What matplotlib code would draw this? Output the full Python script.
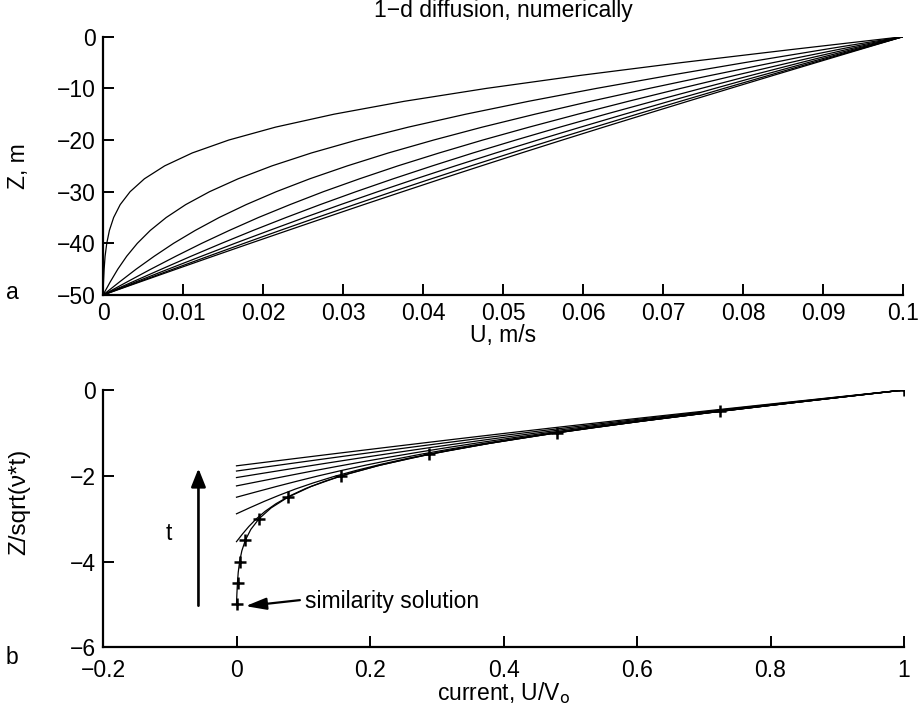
import matplotlib
matplotlib.use('Agg')
import matplotlib.pyplot as plt

plt.rcParams['font.family'] = ['Liberation Sans', 'DejaVu Sans']

# ---------------- data ----------------
# depth levels (m) shared by all profiles of panel a
z_m = [0, -2.5, -5, -7.5, -10, -12.5, -15, -17.5, -20, -22.5, -25,
       -27.5, -30, -32.5, -35, -37.5, -40, -42.5, -45, -47.5, -50]

# current profiles U (m/s) at successive times (panel a)
u_t1 = [0.1, 0.08598, 0.07237, 0.05961, 0.04795, 0.03767, 0.02888, 0.02158, 0.01573, 0.01116, 0.00771,
        0.00518, 0.00339, 0.00215, 0.00133, 0.00080, 0.00047, 0.00026, 0.00014, 0.00006, 0.0]
u_t2 = [0.1, 0.09006, 0.08027, 0.07078, 0.06171, 0.05321, 0.04535, 0.03818, 0.03174, 0.02606, 0.02113,
        0.01690, 0.01332, 0.01034, 0.00790, 0.00591, 0.00429, 0.00296, 0.00185, 0.00089, 0.0]
u_t3 = [0.1, 0.09186, 0.08382, 0.07594, 0.06830, 0.06096, 0.05400, 0.04742, 0.04134, 0.03568, 0.03055,
        0.02586, 0.02166, 0.01790, 0.01452, 0.01153, 0.00882, 0.00640, 0.00414, 0.00204, 0.0]
u_t4 = [0.1, 0.09293, 0.08591, 0.07899, 0.07223, 0.06568, 0.05935, 0.05328, 0.04748, 0.04203, 0.03687,
        0.03208, 0.02755, 0.02338, 0.01943, 0.01579, 0.01234, 0.00910, 0.00598, 0.00297, 0.0]
u_t5 = [0.1, 0.09361, 0.08726, 0.08098, 0.07480, 0.06875, 0.06285, 0.05712, 0.05160, 0.04626, 0.04118,
        0.03629, 0.03162, 0.02715, 0.02288, 0.01877, 0.01482, 0.01100, 0.00730, 0.00364, 0.0]
u_t6 = [0.1, 0.09407, 0.08816, 0.08229, 0.07650, 0.07079, 0.06519, 0.05971, 0.05435, 0.04911, 0.04405,
        0.03913, 0.03435, 0.02971, 0.02520, 0.02081, 0.01649, 0.01230, 0.00814, 0.00404, 0.0]
u_t7 = [0.1, 0.09437, 0.08876, 0.08319, 0.07764, 0.07217, 0.06676, 0.06144, 0.05619, 0.05105, 0.04600,
        0.04105, 0.03619, 0.03143, 0.02675, 0.02214, 0.01763, 0.01316, 0.00875, 0.00437, 0.0]
u_t8 = [0.1, 0.09458, 0.08917, 0.08377, 0.07842, 0.07310, 0.06783, 0.06259, 0.05742, 0.05232, 0.04730,
        0.04233, 0.03745, 0.03260, 0.02784, 0.02311, 0.01841, 0.01376, 0.00915, 0.00457, 0.0]
profiles = [u_t1, u_t2, u_t3, u_t4, u_t5, u_t6, u_t7, u_t8]

diff_len = [10.0, 14.14, 17.32, 20.0, 22.36, 24.49, 26.46, 28.28]
V0 = 0.1  # surface velocity, m/s

# similarity solution markers (panel b)
sim_zeta = [0, -0.5, -1, -1.5, -2, -2.5, -3, -3.5, -4, -4.5, -5]
sim_u = [1.0, 0.7237, 0.4795, 0.2888, 0.1573, 0.0771, 0.0339, 0.0133, 0.0047, 0.0015, 0.0005]

a_xticks = [0, 0.01, 0.02, 0.03, 0.04, 0.05, 0.06, 0.07, 0.08, 0.09, 0.1]
a_xlabels = ['0', '0.01', '0.02', '0.03', '0.04', '0.05', '0.06', '0.07', '0.08', '0.09', '0.1']
a_yticks = [-50, -40, -30, -20, -10, 0]
a_ylabels = ['\u221250', '\u221240', '\u221230', '\u221220', '\u221210', '0']
b_xticks = [-0.2, 0, 0.2, 0.4, 0.6, 0.8, 1.0]
b_xlabels = ['\u22120.2', '0', '0.2', '0.4', '0.6', '0.8', '1']
b_yticks = [-6, -4, -2, 0]
b_ylabels = ['\u22126', '\u22124', '\u22122', '0']

# ---------------- figure ----------------
FS = 16.5
fig = plt.figure(figsize=(9.22, 7.12), dpi=100)
ax1 = fig.add_axes([103 / 922, 1 - 295 / 712, 800 / 922, 258.3 / 712])
ax2 = fig.add_axes([103 / 922, 1 - 647.3 / 712, 801 / 922, 257.3 / 712])


def style(ax, xpad):
    for s in ('top', 'right'):
        ax.spines[s].set_visible(False)
    for s in ('left', 'bottom'):
        ax.spines[s].set_linewidth(1.6)
    ax.tick_params(direction='in', length=8, width=1.4, labelsize=FS)
    ax.tick_params(axis='y', pad=5)
    ax.tick_params(axis='x', pad=xpad)


for u in profiles:
    ax1.plot(u, z_m, color='k', lw=0.9)
ax1.set_xlim(0, 0.1)
ax1.set_ylim(-50, 0)
ax1.set_xticks(a_xticks)
ax1.set_xticklabels(a_xlabels)
ax1.set_yticks(a_yticks)
ax1.set_yticklabels(a_ylabels)
style(ax1, 5)
ax1.set_xlabel('U, m/s', fontsize=FS)
ax1.set_ylabel('Z, m', fontsize=FS)
ax1.xaxis.set_label_coords(0.5, -0.114)
ax1.yaxis.set_label_coords(-0.091, 0.5)
ax1.text(0.5, 1.103, '1\u2212d diffusion, numerically', transform=ax1.transAxes,
         ha='center', va='center', fontsize=FS)

for u, s in zip(profiles, diff_len):
    ax2.plot([v / V0 for v in u], [z / s for z in z_m], color='k', lw=0.9)
ax2.plot(sim_u, sim_zeta, linestyle='none', marker='+', color='k', ms=8, mew=1.8)
ax2.set_xlim(-0.2, 1.0)
ax2.set_ylim(-6, 0)
ax2.set_xticks(b_xticks)
ax2.set_xticklabels(b_xlabels)
ax2.set_yticks(b_yticks)
ax2.set_yticklabels(b_ylabels)
style(ax2, 8.5)
ax2.set_xlabel('current, U/V$_{\\mathrm{o}}$', fontsize=FS)
ax2.set_ylabel('Z/sqrt(\u03bd*t)', fontsize=17.5)
ax2.xaxis.set_label_coords(0.5, -0.129)
ax2.yaxis.set_label_coords(-0.091, 0.565)

ax2.annotate('', xy=(-0.057, -1.83), xytext=(-0.057, -5.03),
             arrowprops=dict(arrowstyle='-|>,head_length=0.55,head_width=0.22', lw=1.9,
                             color='k', mutation_scale=20, shrinkA=0, shrinkB=0))
ax2.text(-0.1016, -3.34, 't', ha='center', va='center', fontsize=FS)
ax2.annotate('', xy=(0.0135, -5.04), xytext=(0.095, -4.90),
             arrowprops=dict(arrowstyle='-|>,head_length=0.7,head_width=0.2', lw=1.6,
                             color='k', mutation_scale=18, shrinkA=0, shrinkB=0))
ax2.text(0.1025, -4.93, 'similarity solution', ha='left', va='center', fontsize=FS)

fig.text(12 / 922, 1 - 293 / 712, 'a', ha='center', va='center', fontsize=FS)
fig.text(12 / 922, 1 - 658 / 712, 'b', ha='center', va='center', fontsize=FS)

fig.savefig('out.png', dpi=100)
